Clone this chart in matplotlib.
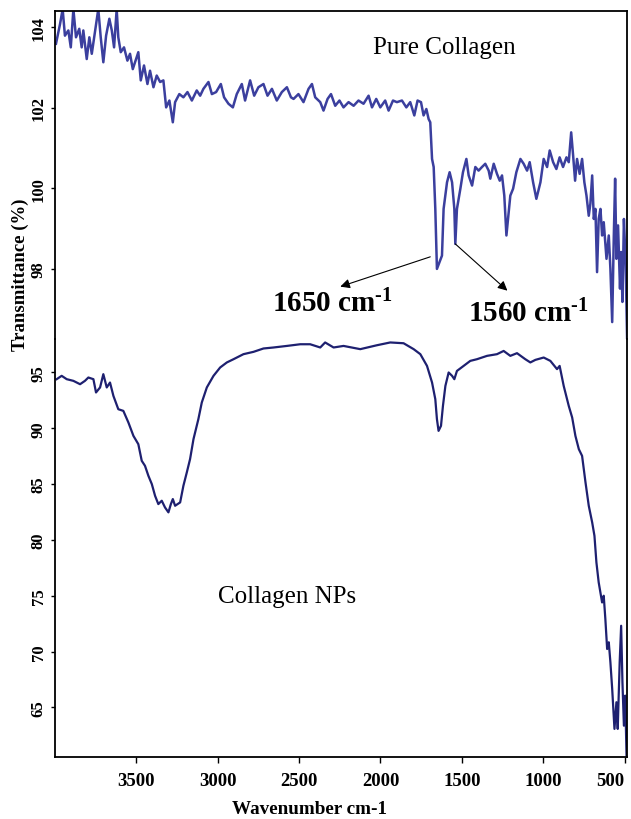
import matplotlib
matplotlib.use('Agg')
import matplotlib.pyplot as plt

plt.rcParams['font.family'] = ['Liberation Serif', 'DejaVu Serif']
plt.rcParams['mathtext.fontset'] = 'custom'
plt.rcParams['mathtext.rm'] = 'Liberation Serif:bold'
plt.rcParams['mathtext.it'] = 'Liberation Serif:bold'
plt.rcParams['mathtext.bf'] = 'Liberation Serif:bold'

# ---------------- data ----------------
pure_wn = [3994, 3969, 3953, 3939, 3918, 3903, 3887, 3871, 3851, 3836, 3826, 3805, 3789, 3774,
           3758, 3734, 3719, 3703, 3686, 3666, 3651, 3637, 3621, 3611, 3596, 3576, 3555, 3539,
           3522, 3502, 3488, 3473, 3453, 3432, 3416, 3395, 3375, 3354, 3334, 3317, 3297, 3276,
           3262, 3236, 3211, 3186, 3159, 3129, 3108, 3088, 3057, 3036, 3010, 2981, 2961, 2934,
           2907, 2883, 2852, 2832, 2801, 2776, 2750, 2719, 2694, 2667, 2637, 2606, 2575, 2550,
           2534, 2504, 2473, 2442, 2421, 2401, 2370, 2350, 2325, 2304, 2278, 2252, 2227, 2196,
           2165, 2135, 2104, 2073, 2052, 2026, 2001, 1971, 1950, 1923, 1899, 1868, 1841, 1817,
           1792, 1772, 1751, 1735, 1718, 1704, 1694, 1683, 1673, 1663, 1653, 1637, 1622, 1612,
           1591, 1575, 1560, 1546, 1540, 1530, 1509, 1493, 1472, 1458, 1437, 1417, 1397, 1376,
           1356, 1335, 1325, 1304, 1284, 1267, 1253, 1239, 1226, 1212, 1202, 1185, 1165, 1140,
           1120, 1099, 1083, 1062, 1042, 1017, 997, 976, 960, 939, 919, 899, 878, 857, 843, 828,
           816, 804, 792, 776, 761, 747, 734, 720, 710, 699, 689, 679, 669, 659, 648, 638, 628,
           611, 597, 587, 576, 566, 558, 550, 540, 528, 521, 513, 504, 494, 483]
pure_t = [103.59, 104.08, 104.45, 103.79, 103.92, 103.50, 104.45, 103.75, 103.96, 103.50, 103.92,
          103.21, 103.75, 103.34, 103.79, 104.45, 103.75, 103.13, 103.79, 104.21, 103.92, 103.50,
          104.45, 103.75, 103.38, 103.50, 103.17, 103.34, 102.96, 103.21, 103.38, 102.68, 103.05,
          102.59, 102.92, 102.51, 102.80, 102.64, 102.68, 102.01, 102.18, 101.64, 102.14, 102.34,
          102.26, 102.39, 102.18, 102.43, 102.30, 102.47, 102.64, 102.34, 102.39, 102.59, 102.26,
          102.10, 102.01, 102.34, 102.59, 102.18, 102.68, 102.30, 102.51, 102.59, 102.30, 102.47,
          102.18, 102.39, 102.51, 102.26, 102.22, 102.34, 102.14, 102.47, 102.59, 102.26, 102.14,
          101.93, 102.22, 102.34, 102.05, 102.18, 102.01, 102.14, 102.05, 102.18, 102.10, 102.30,
          102.01, 102.22, 102.01, 102.18, 101.93, 102.18, 102.14, 102.18, 102.01, 102.14, 101.81,
          102.18, 102.14, 101.81, 101.97, 101.72, 101.64, 100.73, 100.53, 99.49, 98.00, 98.17,
          98.33, 99.49, 100.15, 100.40, 100.15, 99.49, 98.62, 99.49, 99.99, 100.40, 100.73,
          100.32, 100.07, 100.53, 100.44, 100.53, 100.61, 100.44, 100.24, 100.61, 100.36, 100.19,
          100.32, 99.82, 98.83, 99.41, 99.82, 99.99, 100.40, 100.73, 100.61, 100.44, 100.65,
          100.15, 99.74, 100.15, 100.73, 100.53, 100.94, 100.65, 100.48, 100.77, 100.53, 100.77,
          100.65, 101.39, 100.81, 100.19, 100.73, 100.36, 100.73, 100.15, 99.82, 99.32, 99.62,
          100.32, 99.24, 99.49, 97.92, 99.24, 99.49, 98.83, 99.16, 98.25, 98.83, 98.00, 96.68,
          98.83, 100.24, 98.25, 99.08, 97.51, 98.42, 97.18, 99.24, 98.25, 96.00]

nps_wn = [3990, 3959, 3928, 3887, 3846, 3816, 3795, 3764, 3748, 3723, 3703, 3682, 3662, 3641,
          3611, 3580, 3549, 3518, 3488, 3467, 3447, 3426, 3405, 3385, 3365, 3344, 3324, 3303,
          3288, 3276, 3262, 3231, 3211, 3190, 3170, 3149, 3119, 3098, 3067, 3026, 2985, 2944,
          2903, 2842, 2780, 2719, 2657, 2575, 2493, 2432, 2370, 2340, 2288, 2227, 2124, 2022,
          1940, 1858, 1796, 1755, 1714, 1683, 1663, 1653, 1643, 1628, 1616, 1601, 1581, 1560,
          1546, 1530, 1489, 1448, 1407, 1345, 1284, 1243, 1202, 1161, 1110, 1079, 1048, 997,
          956, 915, 899, 874, 843, 822, 802, 781, 761, 740, 720, 699, 685, 673, 659, 638, 628,
          618, 607, 597, 587, 576, 562, 550, 542, 530, 521, 513, 504, 496, 488]
nps_t = [94.40, 94.70, 94.40, 94.25, 93.95, 94.25, 94.55, 94.40, 93.21, 93.66, 94.85, 93.66,
         94.10, 92.90, 91.71, 91.56, 90.52, 89.32, 88.58, 87.09, 86.64, 85.74, 85.00, 83.95,
         83.21, 83.51, 82.91, 82.47, 83.21, 83.66, 83.06, 83.36, 84.85, 86.05, 87.24, 89.03,
         90.82, 92.31, 93.66, 94.70, 95.45, 95.90, 96.19, 96.64, 96.85, 97.15, 97.24, 97.38,
         97.53, 97.53, 97.24, 97.69, 97.24, 97.38, 97.09, 97.44, 97.69, 97.62, 97.09, 96.64,
         95.59, 94.10, 92.61, 90.82, 89.77, 90.22, 92.01, 93.80, 95.00, 94.70, 94.40, 95.14,
         95.59, 96.04, 96.19, 96.49, 96.64, 96.93, 96.49, 96.73, 96.19, 95.90, 96.13, 96.34,
         96.04, 95.30, 95.59, 93.80, 92.01, 90.97, 89.32, 88.13, 87.53, 85.15, 83.06, 81.57,
         80.37, 77.99, 76.20, 74.40, 75.00, 72.91, 70.23, 70.83, 69.04, 66.65, 63.07, 65.46,
         63.07, 69.04, 72.31, 67.25, 63.36, 66.05, 60.70]

x_ticks = [3500, 3000, 2500, 2000, 1500, 1000, 500]
top_yticks = [98, 100, 102, 104]
bot_yticks = [65, 70, 75, 80, 85, 90, 95]

# ---------------- figure ----------------
W, H = 631, 820
fig = plt.figure(figsize=(W / 100, H / 100), dpi=100)
left = 55 / W
width = 572 / W
ax_top = fig.add_axes([left, 1 - 340 / H, width, (340 - 11.7) / H])
ax_bot = fig.add_axes([left, 1 - 757.7 / H, width, (757.7 - 340) / H])

ax_top.plot(pure_wn, pure_t, color='#3b3f9e', lw=1.8)
ax_bot.plot(nps_wn, nps_t, color='#1e2070', lw=1.6)

for ax in (ax_top, ax_bot):
    ax.set_xlim(4000, 485)
    ax.patch.set_alpha(0)
    for s in ax.spines.values():
        s.set_linewidth(1.3)
    ax.tick_params(axis='y', direction='out', length=3, width=1, pad=3)

ax_top.set_ylim(96.26, 104.41)
ax_bot.set_ylim(60.58, 98.0)

ax_top.spines['bottom'].set_visible(False)
ax_top.tick_params(axis='x', bottom=False, labelbottom=False)
ax_bot.spines['top'].set_visible(False)

ax_top.set_yticks(top_yticks, labels=[str(v) for v in top_yticks],
                  fontweight='bold', fontsize=12, rotation=90, va='center')
ax_bot.set_yticks(bot_yticks, labels=[str(v) for v in bot_yticks],
                  fontweight='bold', fontsize=12, rotation=90, va='center')
ax_bot.set_xticks(x_ticks, labels=[str(v) for v in x_ticks],
                  fontweight='bold', fontsize=13.5)
ax_bot.tick_params(axis='x', direction='out', length=4, width=1, pad=7)
ax_bot.get_xticklabels()[-1].set_horizontalalignment('right')

# labels
fig.text(20 / W, 1 - 275 / H, 'Transmittance (%)', rotation=90, ha='center', va='center',
         fontweight='bold', fontsize=13.5)
fig.text(310 / W, 1 - 810 / H, 'Wavenumber cm-1', ha='center', va='center',
         fontweight='bold', fontsize=13.8)

ax_top.text(0.68, 0.89, 'Pure Collagen', transform=ax_top.transAxes, ha='center',
            va='center', fontsize=18)
ax_bot.text(0.405, 0.385, 'Collagen NPs', transform=ax_bot.transAxes, ha='center',
            va='center', fontsize=18)

arrow = dict(arrowstyle='-|>', color='black', lw=0.8, mutation_scale=14, shrinkA=0, shrinkB=0)
ax_top.annotate('', xy=(2247, 97.56), xytext=(1694, 98.30), arrowprops=arrow,
                annotation_clip=False)
ax_top.annotate('', xy=(1220, 97.46), xytext=(1540, 98.62), arrowprops=arrow,
                annotation_clip=False)
ax_top.text(2665, 96.94, r'1650 cm$^{\text{-1}}$', fontweight='bold', fontsize=21,
            ha='left', va='baseline', clip_on=False)
ax_top.text(1460, 96.71, r'1560 cm$^{\text{-1}}$', fontweight='bold', fontsize=21,
            ha='left', va='baseline', clip_on=False)

fig.savefig('out.png', dpi=100)
